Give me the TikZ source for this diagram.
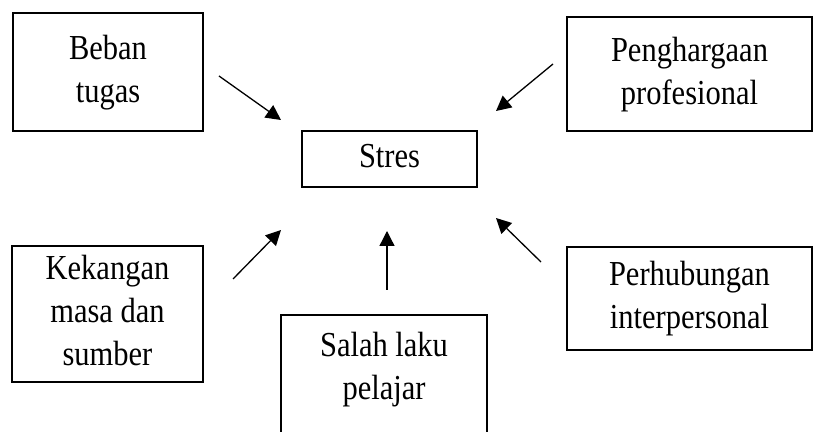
\documentclass[tikz,border=0pt]{standalone}
\usepackage{fontspec}
\setmainfont{Liberation Serif}
\usepackage{graphicx}
\usepackage{tikz}
\usetikzlibrary{arrows.meta}

\newcommand{\factortext}[1]{\scalebox{1}[1.15]{\begin{tabular}{@{}c@{}}#1\end{tabular}}}

\tikzset{
	factor/.style={draw,
		line width=0.7pt,
		inner sep=0pt,
		font=\fontsize{15.25}{18.7}\selectfont},
	push/.style={-{Triangle[length=7.5pt,width=7.5pt]},
		line width=0.65pt}
}

\begin{document}
\begin{tikzpicture}[x=0.5pt,y=-0.5pt]
			\useasboundingbox (0,0) rectangle (814,432);
			
			% Stres
			\node [factor,
				minimum width=87.5pt,
				minimum height=28pt
				] (stres) at (389.5,159) {\factortext{Stres}};
			
			% Beban tugas
			\node [factor,
				minimum width=95pt,
				minimum height=59pt
				] (beban) at (108,72) {\factortext{Beban\\tugas}};
			
			% Penghargaan profesional
			\node [factor,
				minimum width=122.5pt,
				minimum height=57pt
				] (harga) at (689.5,74) {\factortext{Penghargaan\\profesional}};
			
			% Kekangan masa dan sumber
			\node [factor,
				minimum width=95.5pt,
				minimum height=68pt
				] (kekangan) at (107.5,314) {\factortext{Kekangan\\masa dan\\sumber}};
			
			% Salah laku pelajar (runs past the bottom edge)
			\node [factor,
				minimum width=103pt,
				minimum height=62.5pt
				] (salah) at (384,377.5) {\raisebox{4pt}[\height][\depth]{\factortext{Salah laku\\pelajar}}};
			
			% Perhubungan interpersonal
			\node [factor,
				minimum width=122.5pt,
				minimum height=51.5pt
				] (hubungan) at (689.5,298.5) {\factortext{Perhubungan\\interpersonal}};
			
			% Arrow ends
			\coordinate (beban-out) at (219,76);
			\coordinate (beban-in) at (281,120);
			\coordinate (harga-out) at (553,64);
			\coordinate (harga-in) at (496,111);
			\coordinate (kekangan-out) at (233,279);
			\coordinate (kekangan-in) at (281,230);
			\coordinate (salah-out) at (387,290);
			\coordinate (salah-in) at (387,231);
			\coordinate (hubungan-out) at (541,262);
			\coordinate (hubungan-in) at (496,218);
			
			% Arrows
			\draw[push] (beban-out) -- (beban-in);
			\draw[push] (harga-out) -- (harga-in);
			\draw[push] (kekangan-out) -- (kekangan-in);
			\draw[push] (salah-out) -- (salah-in);
			\draw[push] (hubungan-out) -- (hubungan-in);
		
		\end{tikzpicture}
\end{document}
